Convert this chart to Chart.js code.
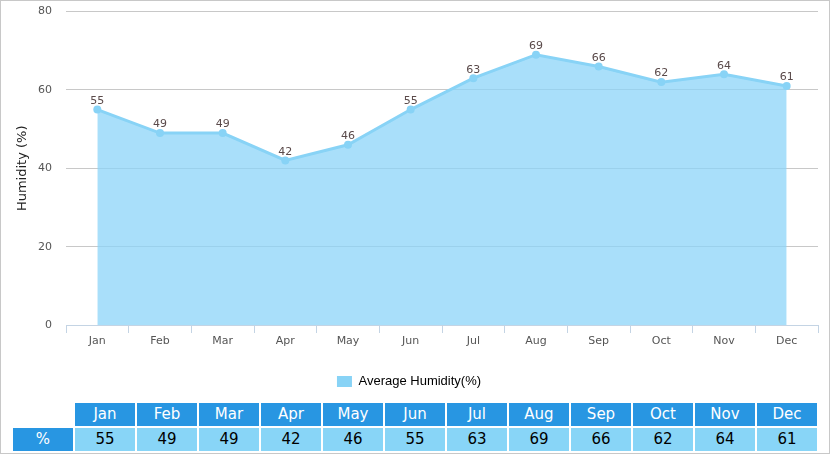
<!DOCTYPE html>
<html>
<head>
<meta charset="utf-8">
<script src="https://cdn.jsdelivr.net/npm/chart.js@4.4.0/dist/chart.umd.min.js"></script>
<style>
  html, body { margin: 0; padding: 0; background: #fff; }
  #wrap {
    position: relative;
    width: 828px;
    height: 452px;
    border: 1px solid #c8c8c8;
    overflow: hidden;
  }
  #chartBox { position: absolute; left: -1px; top: -10px; width: 830px; height: 407px; }
  #dataTable {
    position: absolute;
    left: 12px;
    top: 402px;
    border-collapse: separate;
    border-spacing: 2px;
    font-family: "DejaVu Sans", Verdana, sans-serif;
    font-size: 15px;
    margin: -2px;
  }
  #dataTable td {
    width: 60px;
    height: 23px;
    padding: 0;
    text-align: center;
    line-height: 23px;
  }
  #dataTable tr.head td { background: #2896e2; color: #fff; }
  #dataTable tr.head td.first { background: #fff; }
  #dataTable tr.vals td { background: #88d5f7; color: #000; }
  #dataTable tr.vals td.first { background: #2896e2; color: #fff; }
</style>
</head>
<body>
<div id="wrap">
  <div id="chartBox"><canvas id="humidityChart"></canvas></div>
  <table id="dataTable"></table>
</div>
<script>
const months = ['Jan', 'Feb', 'Mar', 'Apr', 'May', 'Jun', 'Jul', 'Aug', 'Sep', 'Oct', 'Nov', 'Dec'];
const humidity = [55, 49, 49, 42, 46, 55, 63, 69, 66, 62, 64, 61];
const yTicks = [0, 20, 40, 60, 80];
const seriesName = 'Average Humidity(%)';
const unitLabel = '%';

// table under the chart
const table = document.getElementById('dataTable');
let headRow = '<tr class="head"><td class="first"></td>';
let valRow = '<tr class="vals"><td class="first">' + unitLabel + '</td>';
months.forEach((m, i) => {
    headRow += '<td>' + m + '</td>';
    valRow += '<td>' + humidity[i] + '</td>';
});
table.innerHTML = headRow + '</tr>' + valRow + '</tr>';

// draws the value above every point
const pointLabels = {
    id: 'pointLabels',
    afterDatasetsDraw(chart) {
        const ctx = chart.ctx;
        const meta = chart.getDatasetMeta(0);
        ctx.save();
        ctx.font = '11px "DejaVu Sans", Verdana, sans-serif';
        ctx.fillStyle = '#5a4a4a';
        ctx.textAlign = 'center';
        ctx.textBaseline = 'bottom';
        meta.data.forEach((pt, i) => {
            ctx.fillText(humidity[i], pt.x, pt.y - 3);
        });
        ctx.restore();
    }
};

const ctx = document.getElementById('humidityChart').getContext('2d');
new Chart(ctx, {
    type: 'line',
    data: {
        labels: months,
        datasets: [{
            label: seriesName,
            data: humidity,
            fill: 'origin',
            backgroundColor: 'rgba(140, 212, 248, 0.75)',
            borderColor: '#88d3f6',
            borderWidth: 3,
            pointRadius: 4,
            pointBackgroundColor: '#88d3f6',
            pointBorderWidth: 0,
            tension: 0
        }]
    },
    options: {
        responsive: true,
        maintainAspectRatio: false,
        animation: false,
        devicePixelRatio: 1,
        layout: { padding: { top: 3, right: 12, left: 0, bottom: 0 } },
        scales: {
            x: {
                offset: true,
                grid: {
                    offset: true,
                    drawOnChartArea: false,
                    color: '#c4d4e4',
                    tickLength: 8
                },
                border: { color: '#c4d4e4' },
                ticks: {
                    color: '#555',
                    font: { size: 11, family: '"DejaVu Sans", Verdana, sans-serif' },
                    padding: 2
                },
                afterFit(scale) { scale.height = 40; }
            },
            y: {
                min: 0,
                max: 80,
                afterBuildTicks(scale) { scale.ticks = yTicks.map(v => ({ value: v })); },
                grid: { color: '#c8c8c8', drawTicks: false },
                border: { display: false },
                ticks: {
                    color: '#555',
                    font: { size: 11, family: '"DejaVu Sans", Verdana, sans-serif' },
                    padding: 14
                },
                title: {
                    display: true,
                    text: 'Humidity (%)',
                    color: '#222',
                    font: { size: 13, family: '"DejaVu Sans", Verdana, sans-serif' },
                    padding: { top: 15, bottom: 0 }
                },
                afterFit(scale) { scale.width = 66; }
            }
        },
        plugins: {
            legend: {
                position: 'bottom',
                labels: {
                    boxWidth: 15,
                    boxHeight: 11,
                    color: '#000',
                    padding: 10,
                    font: { size: 13, family: '"Liberation Sans", Arial, sans-serif' },
                    generateLabels(chart) {
                        return [{
                            text: seriesName,
                            fillStyle: '#88d3f6',
                            strokeStyle: '#88d3f6',
                            lineWidth: 0,
                            datasetIndex: 0
                        }];
                    }
                }
            },
            tooltip: { enabled: false }
        }
    },
    plugins: [pointLabels]
});
</script>
</body>
</html>
